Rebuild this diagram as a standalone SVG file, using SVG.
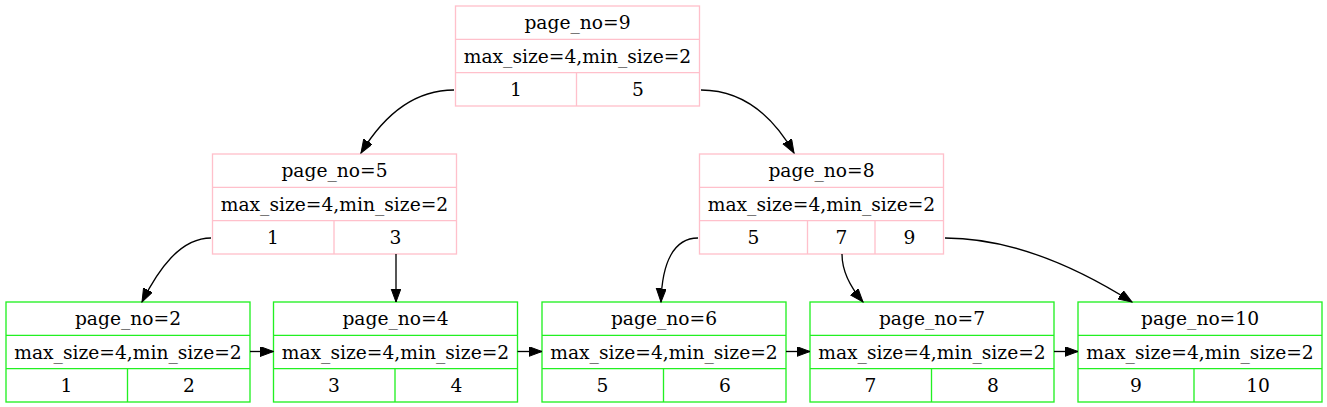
<svg xmlns="http://www.w3.org/2000/svg" width="1327" height="407" viewBox="0 0 1327 407">
<style>
.inner rect,.inner line{fill:none;stroke:#ffc0cb;stroke-width:1.33}
.leaf rect,.leaf line{fill:none;stroke:#22f022;stroke-width:1.33}
text{font-family:"DejaVu Serif",serif;font-size:18.67px;text-anchor:middle;fill:#000}
.edge{fill:none;stroke:#000;stroke-width:1.33}
</style>
<defs>
<marker id="ah" markerUnits="userSpaceOnUse" markerWidth="15" markerHeight="11" refX="13.5" refY="5" orient="auto" viewBox="0 0 15 11">
<path d="M0,0 L13.5,5 L0,10 z" fill="#000" stroke="#000" stroke-width="1"/>
</marker>
</defs>
<rect width="1327" height="407" fill="#fff"/>

<g id="node9" class="inner" transform="translate(455.5,6)">
<rect x="0" y="0" width="244" height="100"/>
<line x1="0" y1="33.3" x2="244" y2="33.3"/>
<line x1="0" y1="66.7" x2="244" y2="66.7"/>
<line x1="121" y1="66.7" x2="121" y2="100"/>
<text x="122" y="23.2">page_no=9</text>
<text x="122" y="56.5">max_size=4,min_size=2</text>
<text x="60.5" y="89.8">1</text>
<text x="182.5" y="89.8">5</text>
</g>

<g id="node5" class="inner" transform="translate(212.5,154)">
<rect x="0" y="0" width="244" height="100"/>
<line x1="0" y1="33.3" x2="244" y2="33.3"/>
<line x1="0" y1="66.7" x2="244" y2="66.7"/>
<line x1="121.5" y1="66.7" x2="121.5" y2="100"/>
<text x="122" y="23.2">page_no=5</text>
<text x="122" y="56.5">max_size=4,min_size=2</text>
<text x="60.5" y="89.8">1</text>
<text x="183" y="89.8">3</text>
</g>

<g id="node8" class="inner" transform="translate(699.5,154)">
<rect x="0" y="0" width="244" height="100"/>
<line x1="0" y1="33.3" x2="244" y2="33.3"/>
<line x1="0" y1="66.7" x2="244" y2="66.7"/>
<line x1="108" y1="66.7" x2="108" y2="100"/>
<line x1="175.5" y1="66.7" x2="175.5" y2="100"/>
<text x="122" y="23.2">page_no=8</text>
<text x="122" y="56.5">max_size=4,min_size=2</text>
<text x="54" y="89.8">5</text>
<text x="142" y="89.8">7</text>
<text x="210" y="89.8">9</text>
</g>

<g id="node2" class="leaf" transform="translate(6,302)">
<rect x="0" y="0" width="244" height="100"/>
<line x1="0" y1="33.3" x2="244" y2="33.3"/>
<line x1="0" y1="66.7" x2="244" y2="66.7"/>
<line x1="121.5" y1="66.7" x2="121.5" y2="100"/>
<text x="122" y="23.2">page_no=2</text>
<text x="122" y="56.5">max_size=4,min_size=2</text>
<text x="60.5" y="89.8">1</text>
<text x="183" y="89.8">2</text>
</g>

<g id="node4" class="leaf" transform="translate(273.5,302)">
<rect x="0" y="0" width="244" height="100"/>
<line x1="0" y1="33.3" x2="244" y2="33.3"/>
<line x1="0" y1="66.7" x2="244" y2="66.7"/>
<line x1="121.5" y1="66.7" x2="121.5" y2="100"/>
<text x="122" y="23.2">page_no=4</text>
<text x="122" y="56.5">max_size=4,min_size=2</text>
<text x="60.5" y="89.8">3</text>
<text x="183" y="89.8">4</text>
</g>

<g id="node6" class="leaf" transform="translate(542,302)">
<rect x="0" y="0" width="244" height="100"/>
<line x1="0" y1="33.3" x2="244" y2="33.3"/>
<line x1="0" y1="66.7" x2="244" y2="66.7"/>
<line x1="121.5" y1="66.7" x2="121.5" y2="100"/>
<text x="122" y="23.2">page_no=6</text>
<text x="122" y="56.5">max_size=4,min_size=2</text>
<text x="60.5" y="89.8">5</text>
<text x="183" y="89.8">6</text>
</g>

<g id="node7" class="leaf" transform="translate(810,302)">
<rect x="0" y="0" width="244" height="100"/>
<line x1="0" y1="33.3" x2="244" y2="33.3"/>
<line x1="0" y1="66.7" x2="244" y2="66.7"/>
<line x1="121.5" y1="66.7" x2="121.5" y2="100"/>
<text x="122" y="23.2">page_no=7</text>
<text x="122" y="56.5">max_size=4,min_size=2</text>
<text x="60.5" y="89.8">7</text>
<text x="183" y="89.8">8</text>
</g>

<g id="node10" class="leaf" transform="translate(1078,302)">
<rect x="0" y="0" width="244" height="100"/>
<line x1="0" y1="33.3" x2="244" y2="33.3"/>
<line x1="0" y1="66.7" x2="244" y2="66.7"/>
<line x1="116" y1="66.7" x2="116" y2="100"/>
<text x="122" y="23.2">page_no=10</text>
<text x="122" y="56.5">max_size=4,min_size=2</text>
<text x="58" y="89.8">9</text>
<text x="180" y="89.8">10</text>
</g>

<g id="edges">
<path class="edge" marker-end="url(#ah)" d="M454,90 C410,90 381,120 361,153"/>
<path class="edge" marker-end="url(#ah)" d="M701,90 C746,90 775,120 794,153"/>
<path class="edge" marker-end="url(#ah)" d="M211,238 C180,238 158,270 142,302"/>
<path class="edge" marker-end="url(#ah)" d="M396,254 L396,302"/>
<path class="edge" marker-end="url(#ah)" d="M698,238 C674,238 662,262 661,302"/>
<path class="edge" marker-end="url(#ah)" d="M842,254 C842,272 851,288 863,302"/>
<path class="edge" marker-end="url(#ah)" d="M945,238 C1010,238 1075,266 1132,302"/>
<path class="edge" marker-end="url(#ah)" d="M250,351.5 L273.5,351.5"/>
<path class="edge" marker-end="url(#ah)" d="M517.5,351.5 L542,351.5"/>
<path class="edge" marker-end="url(#ah)" d="M786,351.5 L810,351.5"/>
<path class="edge" marker-end="url(#ah)" d="M1054,351.5 L1078,351.5"/>
</g>
</svg>
